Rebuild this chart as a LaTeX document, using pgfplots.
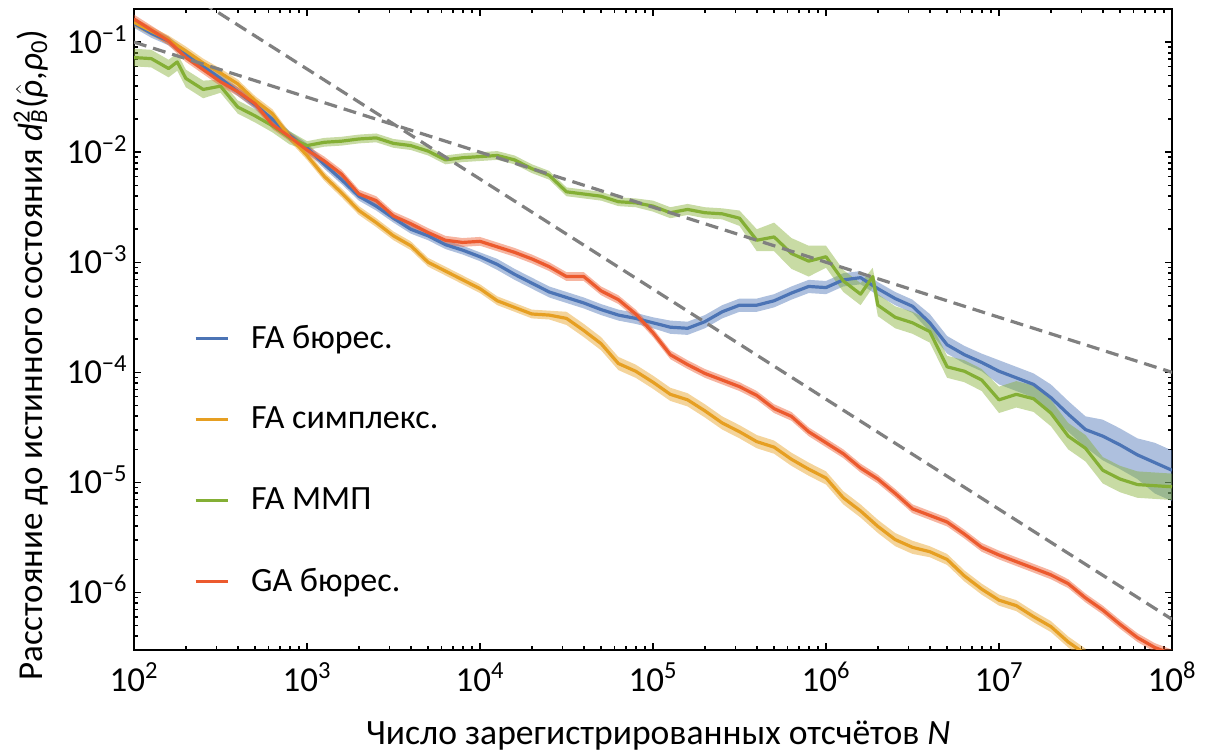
\documentclass[border=0pt]{standalone}
\usepackage{fontspec}
\setmainfont{Carlito}
\usepackage{pgfplots}
\pgfplotsset{compat=1.18}
\usepackage{pgfplotstable}
\usepgfplotslibrary{fillbetween}
\definecolor{cblue}{HTML}{4C74B5}
\definecolor{corange}{HTML}{E69F22}
\definecolor{cgreen}{HTML}{84AF35}
\definecolor{cred}{HTML}{EC5A2E}
\definecolor{cdash}{HTML}{808080}

\pgfplotstableread{
N d lo hi
1.000e2 1.479e-1 1.349e-1 1.622e-1
1.259e2 1.202e-1 1.096e-1 1.318e-1
1.585e2 1.023e-1 9.333e-2 1.122e-1
1.995e2 7.762e-2 7.079e-2 8.511e-2
2.512e2 6.026e-2 5.495e-2 6.607e-2
3.162e2 4.677e-2 4.266e-2 5.129e-2
3.981e2 3.548e-2 3.236e-2 3.890e-2
5.012e2 2.692e-2 2.455e-2 2.951e-2
6.310e2 1.995e-2 1.820e-2 2.188e-2
7.943e2 1.413e-2 1.288e-2 1.549e-2
1.000e3 1.096e-2 1.000e-2 1.202e-2
1.259e3 7.762e-3 7.079e-3 8.511e-3
1.585e3 5.623e-3 5.129e-3 6.166e-3
1.995e3 3.981e-3 3.631e-3 4.365e-3
2.512e3 3.236e-3 2.951e-3 3.548e-3
3.162e3 2.512e-3 2.291e-3 2.754e-3
3.981e3 1.995e-3 1.820e-3 2.188e-3
5.012e3 1.738e-3 1.585e-3 1.905e-3
6.310e3 1.445e-3 1.318e-3 1.585e-3
7.943e3 1.288e-3 1.175e-3 1.413e-3
1.000e4 1.122e-3 1.023e-3 1.230e-3
1.259e4 9.550e-4 8.511e-4 1.072e-3
1.585e4 7.762e-4 6.918e-4 8.710e-4
1.995e4 6.457e-4 5.754e-4 7.244e-4
2.512e4 5.370e-4 4.786e-4 6.026e-4
3.162e4 4.786e-4 4.266e-4 5.370e-4
3.981e4 4.266e-4 3.802e-4 4.786e-4
5.012e4 3.715e-4 3.311e-4 4.169e-4
6.310e4 3.311e-4 2.951e-4 3.715e-4
7.943e4 3.090e-4 2.754e-4 3.467e-4
1.000e5 2.818e-4 2.512e-4 3.162e-4
1.259e5 2.570e-4 2.239e-4 2.951e-4
1.585e5 2.512e-4 2.188e-4 2.884e-4
1.995e5 2.884e-4 2.512e-4 3.311e-4
2.512e5 3.548e-4 3.090e-4 4.074e-4
3.162e5 4.074e-4 3.548e-4 4.677e-4
3.981e5 4.074e-4 3.548e-4 4.677e-4
5.012e5 4.467e-4 3.890e-4 5.129e-4
6.310e5 5.248e-4 4.571e-4 6.026e-4
7.943e5 6.026e-4 5.248e-4 6.918e-4
1.000e6 5.888e-4 5.129e-4 6.761e-4
1.259e6 6.918e-4 6.026e-4 7.943e-4
1.585e6 7.244e-4 6.310e-4 8.318e-4
1.995e6 5.754e-4 5.012e-4 6.607e-4
2.512e6 4.677e-4 4.074e-4 5.370e-4
3.162e6 3.981e-4 3.467e-4 4.571e-4
3.981e6 2.818e-4 2.344e-4 3.388e-4
5.012e6 1.778e-4 1.479e-4 2.138e-4
6.310e6 1.445e-4 1.202e-4 1.738e-4
7.943e6 1.230e-4 1.023e-4 1.479e-4
1.000e7 1.023e-4 7.762e-5 1.288e-4
1.259e7 8.913e-5 6.761e-5 1.122e-4
1.585e7 7.762e-5 5.888e-5 9.772e-5
1.995e7 5.888e-5 4.074e-5 7.762e-5
2.512e7 4.169e-5 2.884e-5 5.495e-5
3.162e7 3.020e-5 2.089e-5 3.981e-5
3.981e7 2.630e-5 1.585e-5 3.715e-5
5.012e7 2.188e-5 1.318e-5 3.090e-5
6.310e7 1.778e-5 1.072e-5 2.512e-5
7.943e7 1.514e-5 7.943e-6 2.291e-5
1.000e8 1.288e-5 6.761e-6 1.950e-5
}\tblue

\pgfplotstableread{
N d lo hi
1.000e2 1.514e-1 1.380e-1 1.660e-1
1.259e2 1.259e-1 1.148e-1 1.380e-1
1.585e2 1.047e-1 9.550e-2 1.148e-1
1.995e2 8.318e-2 7.586e-2 9.120e-2
2.512e2 6.457e-2 5.888e-2 7.079e-2
3.162e2 5.248e-2 4.786e-2 5.754e-2
3.981e2 4.169e-2 3.802e-2 4.571e-2
5.012e2 2.951e-2 2.692e-2 3.236e-2
6.310e2 2.239e-2 2.042e-2 2.455e-2
7.943e2 1.380e-2 1.259e-2 1.514e-2
1.000e3 9.333e-3 8.511e-3 1.023e-2
1.259e3 6.026e-3 5.495e-3 6.607e-3
1.585e3 4.266e-3 3.890e-3 4.677e-3
1.995e3 2.951e-3 2.692e-3 3.236e-3
2.512e3 2.291e-3 2.089e-3 2.512e-3
3.162e3 1.738e-3 1.585e-3 1.905e-3
3.981e3 1.413e-3 1.288e-3 1.549e-3
5.012e3 1.000e-3 9.120e-4 1.096e-3
6.310e3 8.318e-4 7.586e-4 9.120e-4
7.943e3 6.918e-4 6.310e-4 7.586e-4
1.000e4 5.754e-4 5.248e-4 6.310e-4
1.259e4 4.467e-4 4.074e-4 4.898e-4
1.585e4 3.890e-4 3.548e-4 4.266e-4
1.995e4 3.388e-4 3.090e-4 3.715e-4
2.512e4 3.311e-4 3.020e-4 3.631e-4
3.162e4 3.090e-4 2.692e-4 3.548e-4
3.981e4 2.399e-4 2.089e-4 2.754e-4
5.012e4 1.820e-4 1.585e-4 2.089e-4
6.310e4 1.202e-4 1.047e-4 1.380e-4
7.943e4 1.023e-4 8.913e-5 1.175e-4
1.000e5 8.128e-5 7.079e-5 9.333e-5
1.259e5 6.310e-5 5.495e-5 7.244e-5
1.585e5 5.623e-5 4.898e-5 6.457e-5
1.995e5 4.467e-5 3.890e-5 5.129e-5
2.512e5 3.467e-5 3.020e-5 3.981e-5
3.162e5 2.884e-5 2.512e-5 3.311e-5
3.981e5 2.344e-5 2.042e-5 2.692e-5
5.012e5 2.089e-5 1.820e-5 2.399e-5
6.310e5 1.622e-5 1.413e-5 1.862e-5
7.943e5 1.318e-5 1.148e-5 1.514e-5
1.000e6 1.096e-5 9.550e-6 1.259e-5
1.259e6 7.244e-6 6.310e-6 8.318e-6
1.585e6 5.495e-6 4.786e-6 6.310e-6
1.995e6 3.981e-6 3.467e-6 4.571e-6
2.512e6 3.020e-6 2.630e-6 3.467e-6
3.162e6 2.570e-6 2.239e-6 2.951e-6
3.981e6 2.344e-6 2.089e-6 2.630e-6
5.012e6 1.995e-6 1.778e-6 2.239e-6
6.310e6 1.413e-6 1.259e-6 1.585e-6
7.943e6 1.072e-6 9.550e-7 1.202e-6
1.000e7 8.511e-7 7.586e-7 9.550e-7
1.259e7 7.586e-7 6.761e-7 8.511e-7
1.585e7 6.026e-7 5.370e-7 6.761e-7
1.995e7 4.898e-7 4.365e-7 5.495e-7
2.512e7 3.548e-7 3.162e-7 3.981e-7
3.162e7 2.754e-7 2.455e-7 3.090e-7
}\torange

\pgfplotstableread{
N d lo hi
1.000e2 7.244e-2 6.026e-2 8.710e-2
1.259e2 7.079e-2 5.888e-2 8.511e-2
1.585e2 5.754e-2 4.786e-2 6.918e-2
1.778e2 6.607e-2 5.495e-2 7.943e-2
1.995e2 4.677e-2 3.890e-2 5.623e-2
2.512e2 3.715e-2 3.090e-2 4.467e-2
3.162e2 3.981e-2 3.467e-2 4.571e-2
3.981e2 2.570e-2 2.239e-2 2.951e-2
5.012e2 2.138e-2 1.862e-2 2.455e-2
6.310e2 1.738e-2 1.514e-2 1.995e-2
7.943e2 1.349e-2 1.175e-2 1.549e-2
1.000e3 1.148e-2 1.047e-2 1.259e-2
1.259e3 1.230e-2 1.122e-2 1.349e-2
1.585e3 1.259e-2 1.148e-2 1.380e-2
1.995e3 1.318e-2 1.202e-2 1.445e-2
2.512e3 1.349e-2 1.230e-2 1.479e-2
3.162e3 1.202e-2 1.096e-2 1.318e-2
3.981e3 1.148e-2 1.047e-2 1.259e-2
5.012e3 1.023e-2 9.333e-3 1.122e-2
6.310e3 8.511e-3 7.762e-3 9.333e-3
7.943e3 8.913e-3 8.128e-3 9.772e-3
1.000e4 9.120e-3 8.318e-3 1.000e-2
1.259e4 9.333e-3 8.511e-3 1.023e-2
1.585e4 8.511e-3 7.762e-3 9.333e-3
1.995e4 7.079e-3 6.457e-3 7.762e-3
2.512e4 6.166e-3 5.623e-3 6.761e-3
3.162e4 4.365e-3 3.981e-3 4.786e-3
3.981e4 4.169e-3 3.802e-3 4.571e-3
5.012e4 3.981e-3 3.631e-3 4.365e-3
6.310e4 3.548e-3 3.236e-3 3.890e-3
7.943e4 3.467e-3 3.162e-3 3.802e-3
1.000e5 3.236e-3 2.884e-3 3.631e-3
1.259e5 2.818e-3 2.512e-3 3.162e-3
1.585e5 3.020e-3 2.692e-3 3.388e-3
1.995e5 2.818e-3 2.512e-3 3.162e-3
2.512e5 2.754e-3 2.455e-3 3.090e-3
3.162e5 2.512e-3 2.138e-3 2.951e-3
3.981e5 1.585e-3 1.259e-3 1.995e-3
5.012e5 1.698e-3 1.259e-3 2.291e-3
6.310e5 1.202e-3 8.710e-4 1.660e-3
7.943e5 1.023e-3 7.413e-4 1.413e-3
1.000e6 1.122e-3 8.913e-4 1.413e-3
1.259e6 6.761e-4 5.370e-4 8.511e-4
1.585e6 5.129e-4 4.074e-4 6.457e-4
1.862e6 7.413e-4 5.888e-4 8.913e-4
1.995e6 4.074e-4 3.236e-4 5.129e-4
2.512e6 3.162e-4 2.512e-4 3.981e-4
3.162e6 2.818e-4 2.239e-4 3.548e-4
3.981e6 2.344e-4 1.862e-4 2.951e-4
5.012e6 1.122e-4 8.913e-5 1.413e-4
6.310e6 1.023e-4 8.128e-5 1.288e-4
7.943e6 8.511e-5 6.761e-5 1.072e-4
1.000e7 5.623e-5 4.266e-5 7.413e-5
1.259e7 6.310e-5 4.786e-5 8.318e-5
1.585e7 5.754e-5 4.365e-5 7.586e-5
1.995e7 4.266e-5 3.236e-5 5.623e-5
2.512e7 2.630e-5 1.995e-5 3.467e-5
3.162e7 2.042e-5 1.549e-5 2.692e-5
3.981e7 1.288e-5 9.772e-6 1.698e-5
5.012e7 1.072e-5 8.128e-6 1.413e-5
6.310e7 9.550e-6 7.244e-6 1.259e-5
7.943e7 9.333e-6 7.079e-6 1.230e-5
1.000e8 9.120e-6 6.918e-6 1.202e-5
}\tgreen

\pgfplotstableread{
N d lo hi
1.000e2 1.622e-1 1.479e-1 1.778e-1
1.259e2 1.288e-1 1.175e-1 1.413e-1
1.585e2 1.023e-1 9.333e-2 1.122e-1
1.995e2 7.244e-2 6.607e-2 7.943e-2
2.512e2 5.623e-2 5.129e-2 6.166e-2
3.162e2 4.365e-2 3.981e-2 4.786e-2
3.981e2 3.548e-2 3.236e-2 3.890e-2
5.012e2 2.754e-2 2.512e-2 3.020e-2
6.310e2 1.778e-2 1.622e-2 1.950e-2
7.943e2 1.380e-2 1.259e-2 1.514e-2
1.000e3 1.047e-2 9.550e-3 1.148e-2
1.259e3 8.318e-3 7.586e-3 9.120e-3
1.585e3 6.310e-3 5.754e-3 6.918e-3
1.995e3 4.169e-3 3.802e-3 4.571e-3
2.512e3 3.631e-3 3.311e-3 3.981e-3
3.162e3 2.630e-3 2.399e-3 2.884e-3
3.981e3 2.239e-3 2.042e-3 2.455e-3
5.012e3 1.862e-3 1.698e-3 2.042e-3
6.310e3 1.585e-3 1.445e-3 1.738e-3
7.943e3 1.514e-3 1.380e-3 1.660e-3
1.000e4 1.549e-3 1.413e-3 1.698e-3
1.259e4 1.380e-3 1.259e-3 1.514e-3
1.585e4 1.230e-3 1.122e-3 1.349e-3
1.995e4 1.072e-3 9.772e-4 1.175e-3
2.512e4 9.120e-4 8.318e-4 1.000e-3
3.162e4 7.413e-4 6.761e-4 8.128e-4
3.981e4 7.413e-4 6.761e-4 8.128e-4
5.012e4 5.495e-4 5.012e-4 6.026e-4
6.310e4 4.571e-4 4.169e-4 5.012e-4
7.943e4 3.388e-4 3.090e-4 3.715e-4
1.000e5 2.291e-4 2.089e-4 2.512e-4
1.259e5 1.445e-4 1.318e-4 1.585e-4
1.585e5 1.175e-4 1.072e-4 1.288e-4
1.995e5 9.772e-5 8.913e-5 1.072e-4
2.512e5 8.511e-5 7.762e-5 9.333e-5
3.162e5 7.413e-5 6.761e-5 8.128e-5
3.981e5 6.166e-5 5.623e-5 6.761e-5
5.012e5 4.677e-5 4.266e-5 5.129e-5
6.310e5 3.981e-5 3.631e-5 4.365e-5
7.943e5 2.884e-5 2.630e-5 3.162e-5
1.000e6 2.291e-5 2.089e-5 2.512e-5
1.259e6 1.820e-5 1.660e-5 1.995e-5
1.585e6 1.349e-5 1.230e-5 1.479e-5
1.995e6 1.072e-5 9.772e-6 1.175e-5
2.512e6 7.943e-6 7.244e-6 8.710e-6
3.162e6 5.754e-6 5.248e-6 6.310e-6
3.981e6 5.012e-6 4.571e-6 5.495e-6
5.012e6 4.365e-6 3.981e-6 4.786e-6
6.310e6 3.388e-6 3.090e-6 3.715e-6
7.943e6 2.570e-6 2.344e-6 2.818e-6
1.000e7 2.188e-6 1.995e-6 2.399e-6
1.259e7 1.905e-6 1.738e-6 2.089e-6
1.585e7 1.660e-6 1.514e-6 1.820e-6
1.995e7 1.445e-6 1.318e-6 1.585e-6
2.512e7 1.202e-6 1.096e-6 1.318e-6
3.162e7 8.913e-7 8.128e-7 9.772e-7
3.981e7 6.918e-7 6.310e-7 7.586e-7
5.012e7 5.129e-7 4.677e-7 5.623e-7
6.310e7 3.890e-7 3.548e-7 4.266e-7
7.943e7 3.162e-7 2.884e-7 3.467e-7
1.000e8 2.754e-7 2.512e-7 3.020e-7
}\tred

\begin{document}
\begin{tikzpicture}
\begin{axis}[
  at={(0bp,0bp)}, anchor=south west,
  width=519bp, height=320.5bp, scale only axis,
  xmode=log, ymode=log,
  xmin=100, xmax=1e8, ymin=3e-7, ymax=0.2,
  axis line style={line width=1bp},
  tick align=inside,
  major tick length=3.5bp, minor tick length=2bp,
  every tick/.style={black, line width=0.75bp},
  xtick={1e2,1e3,1e4,1e5,1e6,1e7,1e8},
  xticklabels={10\textsuperscript{2},10\textsuperscript{3},10\textsuperscript{4},10\textsuperscript{5},10\textsuperscript{6},10\textsuperscript{7},10\textsuperscript{8}},
  minor xtick={2e2,3e2,4e2,5e2,6e2,7e2,8e2,9e2,2e3,3e3,4e3,5e3,6e3,7e3,8e3,9e3,2e4,3e4,4e4,5e4,6e4,7e4,8e4,9e4,2e5,3e5,4e5,5e5,6e5,7e5,8e5,9e5,2e6,3e6,4e6,5e6,6e6,7e6,8e6,9e6,2e7,3e7,4e7,5e7,6e7,7e7,8e7,9e7},
  ytick={1e-6,1e-5,1e-4,1e-3,1e-2,1e-1},
  yticklabels={10\textsuperscript{−6},10\textsuperscript{−5},10\textsuperscript{−4},10\textsuperscript{−3},10\textsuperscript{−2},10\textsuperscript{−1}},
  minor ytick={3e-7,4e-7,5e-7,6e-7,7e-7,8e-7,9e-7,2e-6,3e-6,4e-6,5e-6,6e-6,7e-6,8e-6,9e-6,2e-5,3e-5,4e-5,5e-5,6e-5,7e-5,8e-5,9e-5,2e-4,3e-4,4e-4,5e-4,6e-4,7e-4,8e-4,9e-4,2e-3,3e-3,4e-3,5e-3,6e-3,7e-3,8e-3,9e-3,2e-2,3e-2,4e-2,5e-2,6e-2,7e-2,8e-2,9e-2},
  tick label style={font=\fontsize{17.5bp}{20bp}\selectfont},
  xticklabel style={inner sep=0pt, anchor=base, yshift=-20.5bp},
  yticklabel style={inner sep=0pt, anchor=base east, xshift=-3bp, yshift=-5.7bp},
  label style={font=\fontsize{17.5bp}{20bp}\selectfont},
  xlabel={Число зарегистрированных отсчётов \textit{N}},
  xlabel style={at={(axis description cs:0.505,0)}, anchor=base, yshift=-47bp, inner sep=0pt, font=\fontsize{17.8bp}{21bp}\selectfont},
  ylabel={Расстояние до истинного состояния \textit{d}\rlap{\textsuperscript{2}}\textsubscript{\textit{B}}(\ensuremath{\hat{\hbox{\itshape ρ}}},\textit{ρ}\textsubscript{0})},
  ylabel style={at={(axis description cs:-0.0886,0.46)}, anchor=base, inner sep=0pt},
  legend style={draw=none, fill=none, at={(axis description cs:0.0516,0.52)}, anchor=north west,
    row sep=24bp, font=\fontsize{17bp}{20bp}\selectfont, cells={anchor=west},
    /tikz/every odd column/.append style={column sep=9bp}},
  legend image code/.code={\draw[#1, line width=1.6bp] (0bp,0bp) -- (16bp,0bp);},
  legend cell align=left,
]
% FA Bures (blue)
\addplot[draw=none, name path=bH, forget plot] table[x=N,y=hi]{\tblue};
\addplot[draw=none, name path=bL, forget plot] table[x=N,y=lo]{\tblue};
\addplot[fill=cblue, fill opacity=0.45, draw=none, forget plot] fill between[of=bH and bL];
\addplot[cblue, line width=1.6bp, line join=round] table[x=N,y=d]{\tblue};
\addlegendentry{FA бюрес.}
% FA simplex (orange)
\addplot[draw=none, name path=oH, forget plot] table[x=N,y=hi]{\torange};
\addplot[draw=none, name path=oL, forget plot] table[x=N,y=lo]{\torange};
\addplot[fill=corange, fill opacity=0.45, draw=none, forget plot] fill between[of=oH and oL];
\addplot[corange, line width=1.6bp, line join=round] table[x=N,y=d]{\torange};
\addlegendentry{FA симплекс.}
% FA MMP (green)
\addplot[draw=none, name path=gH, forget plot] table[x=N,y=hi]{\tgreen};
\addplot[draw=none, name path=gL, forget plot] table[x=N,y=lo]{\tgreen};
\addplot[fill=cgreen, fill opacity=0.45, draw=none, forget plot] fill between[of=gH and gL];
\addplot[cgreen, line width=1.6bp, line join=round] table[x=N,y=d]{\tgreen};
\addlegendentry{FA ММП}
% GA Bures (red)
\addplot[draw=none, name path=rH, forget plot] table[x=N,y=hi]{\tred};
\addplot[draw=none, name path=rL, forget plot] table[x=N,y=lo]{\tred};
\addplot[fill=cred, fill opacity=0.45, draw=none, forget plot] fill between[of=rH and rL];
\addplot[cred, line width=1.6bp, line join=round] table[x=N,y=d]{\tred};
\addlegendentry{GA бюрес.}
% reference slopes
\addplot[cdash, line width=1.6bp, dash pattern=on 6.5bp off 3.5bp, forget plot] coordinates {(100,0.1) (1e8,1e-4)};
\addplot[cdash, line width=1.6bp, dash pattern=on 6.5bp off 3.5bp, forget plot] coordinates {(100,0.57) (1e8,5.7e-7)};
\end{axis}
\pgfresetboundingbox
\path[use as bounding box] (-67bp,-52bp) rectangle (537bp,325bp);
\end{tikzpicture}
\end{document}
